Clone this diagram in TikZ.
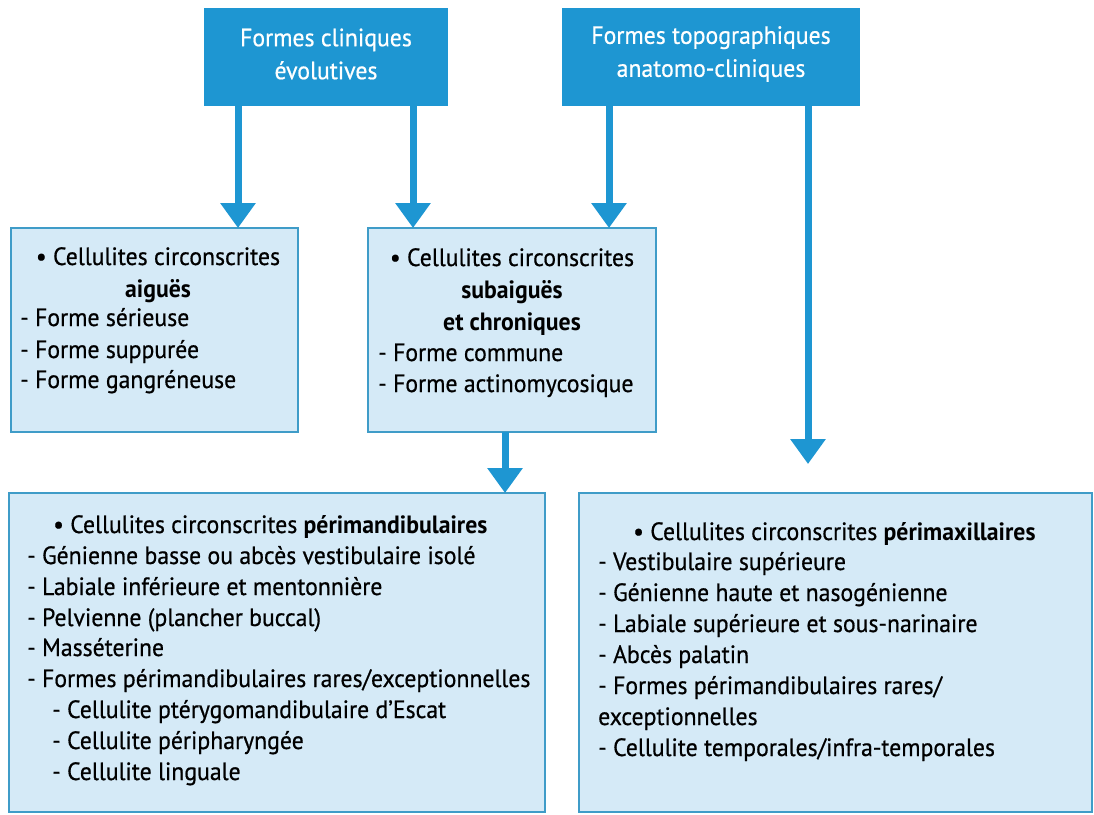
\documentclass[tikz,border=0pt]{standalone}
\usepackage{fontspec}
\setmainfont{PT Sans}[FakeStretch=0.95, UprightFeatures={FakeBold=0.6}]
\usetikzlibrary{arrows.meta}
\definecolor{dblue}{HTML}{1E96D2}
\definecolor{lblue}{HTML}{D5EAF7}
\definecolor{bord}{HTML}{3F9CC8}
\begin{document}
\begin{tikzpicture}[x=1pt,y=-1pt,
  topbox/.style={fill=dblue, draw=none, inner sep=0pt, outer sep=0pt, anchor=north west},
  toptxt/.style={text=white, inner sep=0pt, align=center, font=\fontsize{25}{33}\selectfont},
  lbox/.style={fill=lblue, draw=bord, line width=2pt, inner sep=0pt, outer sep=0pt, anchor=north west},
  txt/.style={anchor=base west, inner sep=0pt, font=\fontsize{25}{31}\selectfont},
  ctxt/.style={anchor=base, inner sep=0pt, font=\fontsize{25}{31}\selectfont},
  arr/.style={draw=dblue, line width=7pt, -{Triangle[width=34pt,length=25pt]}}]
\useasboundingbox (0,0) rectangle (1094,814);
\fill[white] (0,0) rectangle (1094,814);

% top boxes
\node[topbox, minimum width=244pt, minimum height=98pt] (A) at (204,8) {};
\node[topbox, minimum width=298pt, minimum height=98pt] (B) at (562,8) {};
\node[toptxt] (At) at ([yshift=3pt]A.center) {Formes cliniques\\évolutives};
\node[toptxt] (Bt) at ([yshift=3pt]B.center) {Formes topographiques\\anatomo-cliniques};

% light boxes
\node[lbox, minimum width=287pt, minimum height=204pt] (C) at (11,228) {};
\node[lbox, minimum width=288pt, minimum height=204pt] (D) at (368,228) {};
\node[lbox, minimum width=536pt, minimum height=319pt] (E) at (9,493) {};
\node[lbox, minimum width=513pt, minimum height=319pt] (F) at (579,493) {};

% arrows
\coordinate (a1) at ([xshift=34pt]A.south west);
\coordinate (a2) at ([xshift=209pt]A.south west);
\coordinate (b1) at ([xshift=47pt]B.south west);
\coordinate (b2) at ([xshift=246pt]B.south west);
\coordinate (bend) at ([yshift=29pt]b2 |- F.north);
\coordinate (d1) at ([xshift=137pt]D.south west);
\draw[arr] (a1) -- (a1 |- C.north);
\draw[arr] (a2) -- (a2 |- D.north);
\draw[arr] (b1) -- (b1 |- D.north);
\draw[arr] (b2) -- (bend);
\draw[arr] (d1) -- (d1 |- E.north);

% box C text
\node[ctxt] (c1) at (158,265) {\textbullet\ Cellulites circonscrites};
\node[ctxt] (c2) at (158,297) {\textbf{aiguës}};
\node[txt] (c3) at (20,326) {- Forme sérieuse};
\node[txt] (c4) at (20,358) {- Forme suppurée};
\node[txt] (c5) at (20,388) {- Forme gangréneuse};

% box D text
\node[ctxt] (d1t) at (512,266) {\textbullet\ Cellulites circonscrites};
\node[ctxt] (d2t) at (512,298) {\textbf{subaiguës}};
\node[ctxt] (d3t) at (512,330) {\textbf{et chroniques}};
\node[txt] (d4t) at (378,361) {- Forme commune};
\node[txt] (d5t) at (378,392) {- Forme actinomycosique};

% box E text
\node[txt] (e1) at (53,533) {\textbullet\ Cellulites circonscrites \textbf{périmandibulaires}};
\node[txt] (e2) at (27,564) {- Génienne basse ou abcès vestibulaire isolé};
\node[txt] (e3) at (27,595) {- Labiale inférieure et mentonnière};
\node[txt] (e4) at (27,626) {- Pelvienne (plancher buccal)};
\node[txt] (e5) at (27,656) {- Masséterine};
\node[txt] (e6) at (27,687) {- Formes périmandibulaires rares/exceptionnelles};
\node[txt] (e7) at (52,718) {- Cellulite ptérygomandibulaire d’Escat};
\node[txt] (e8) at (52,749) {- Cellulite péripharyngée};
\node[txt] (e9) at (52,780) {- Cellulite linguale};

% box F text
\node[txt] (f1) at (633,540) {\textbullet\ Cellulites circonscrites \textbf{périmaxillaires}};
\node[txt] (f2) at (598,570) {- Vestibulaire supérieure};
\node[txt] (f3) at (598,601) {- Génienne haute et nasogénienne};
\node[txt] (f4) at (598,632) {- Labiale supérieure et sous-narinaire};
\node[txt] (f5) at (598,663) {- Abcès palatin};
\node[txt] (f6) at (598,694) {- Formes périmandibulaires rares/};
\node[txt] (f7) at (598,725) {exceptionnelles};
\node[txt] (f8) at (598,756) {- Cellulite temporales/infra-temporales};
\end{tikzpicture}
\end{document}
